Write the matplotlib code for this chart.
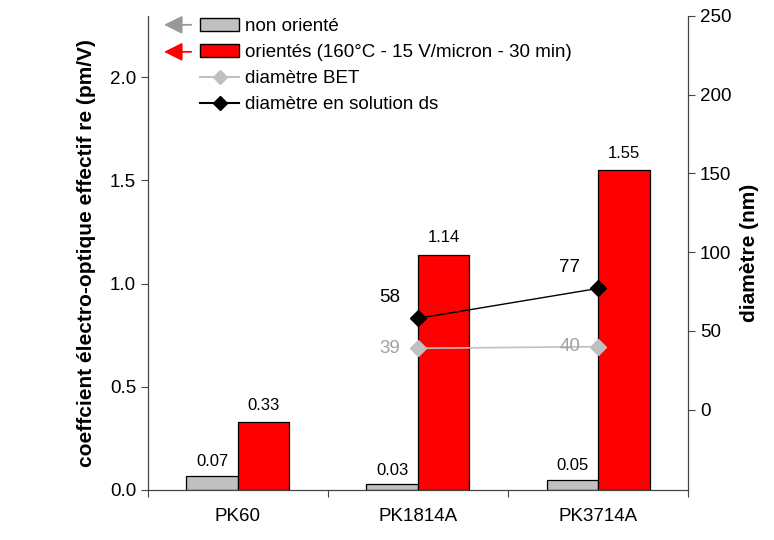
import numpy as np
import matplotlib
matplotlib.use('Agg')
import matplotlib.pyplot as plt
from matplotlib.patches import Patch, FancyArrowPatch
from matplotlib.lines import Line2D

plt.rcParams['font.family'] = ['Liberation Sans', 'DejaVu Sans']

# data
samples = ['PK60', 'PK1814A', 'PK3714A']
non_oriente = [0.07, 0.03, 0.05]
orientes = [0.33, 1.14, 1.55]
bet_x = ['PK1814A', 'PK3714A']
diam_bet = [39, 40]
diam_sol = [58, 77]

fig = plt.figure(figsize=(7.74, 5.4), dpi=100)
ax = fig.add_axes([0.191, 0.0926, 0.698, 0.8778])
ax2 = ax.twinx()

x = np.arange(len(samples))
w = 0.286
ax.bar(x - w/2, non_oriente, w, color='#c0c0c0', edgecolor='black', linewidth=0.9, zorder=2)
ax.bar(x + w/2, orientes, w, color='#ff0000', edgecolor='black', linewidth=0.9, zorder=2)
for xi, v in zip(x, non_oriente):
    ax.text(xi - w/2, v + 0.03, f'{v:.2f}', ha='center', va='bottom', fontsize=12)
for xi, v in zip(x, orientes):
    ax.text(xi + w/2, v + 0.045, f'{v:.2f}', ha='center', va='bottom', fontsize=12)

ax.set_xlim(-0.5, 2.5)
ax.set_ylim(0, 2.297)
ax.set_yticks([0, 0.5, 1.0, 1.5, 2.0])
ax.set_yticklabels(['0.0', '0.5', '1.0', '1.5', '2.0'], fontsize=13.5)
ax.set_xticks([-0.5, 0.5, 1.5, 2.5])
ax.set_xticklabels([])
ax.set_xticks(x, minor=True)
ax.set_xticklabels(samples, minor=True, fontsize=13.5)
ax.tick_params(axis='x', which='minor', length=0, pad=13)
ax.tick_params(axis='x', which='major', length=5, direction='out', color='#444444')
ax.tick_params(axis='y', length=5, direction='out', color='#444444')
ax.set_ylabel('coeffcient électro-optique effectif re (pm/V)', fontsize=15, fontweight='bold', labelpad=10)

xl = [samples.index(s) for s in bet_x]
ax2.plot(xl, diam_bet, color='#c0c0c0', marker='D', markersize=8, linewidth=1.2, zorder=3)
ax2.plot(xl, diam_sol, color='black', marker='D', markersize=8, linewidth=1.0, zorder=3)
for xi, v in zip(xl, diam_bet):
    ax2.text(xi - 0.1, v, str(v), ha='right', va='center', fontsize=13.5, color='#a0a0a0')
for xi, v in zip(xl, diam_sol):
    ax2.text(xi - 0.1, v + 13, str(v), ha='right', va='center', fontsize=13.5, color='black')
ax2.set_ylim(-51, 250)
ax2.set_yticks([0, 50, 100, 150, 200, 250])
ax2.tick_params(axis='y', length=5, direction='out', color='#444444', labelsize=13.5)
ax2.set_ylabel('diamètre (nm)', fontsize=15, fontweight='bold', labelpad=6)

for a in (ax, ax2):
    a.spines['top'].set_visible(False)
    for s in ('left', 'right', 'bottom'):
        a.spines[s].set_color('#444444')

handles = [Patch(facecolor='#c0c0c0', edgecolor='black'),
           Patch(facecolor='#ff0000', edgecolor='black'),
           Line2D([], [], color='#c0c0c0', marker='D', markersize=7),
           Line2D([], [], color='black', marker='D', markersize=7)]
labels = ['non orienté', 'orientés (160°C - 15 V/micron - 30 min)', 'diamètre BET',
          'diamètre en solution ds']
fig.legend(handles, labels, loc='upper left', bbox_to_anchor=(0.239, 0.995), frameon=False,
           fontsize=13.5, handlelength=2.1, handletextpad=0.3, labelspacing=0.48, borderpad=0.3)

for yy, c in [(0.954, '#999999'), (0.904, '#ff0000')]:
    fig.add_artist(FancyArrowPatch((0.247, yy), (0.212, yy), transform=fig.transFigure,
                   arrowstyle='-|>,head_length=0.8,head_width=0.4', mutation_scale=14,
                   shrinkA=0, shrinkB=0, color=c, linewidth=1.3))

fig.savefig('out.png', dpi=100)
